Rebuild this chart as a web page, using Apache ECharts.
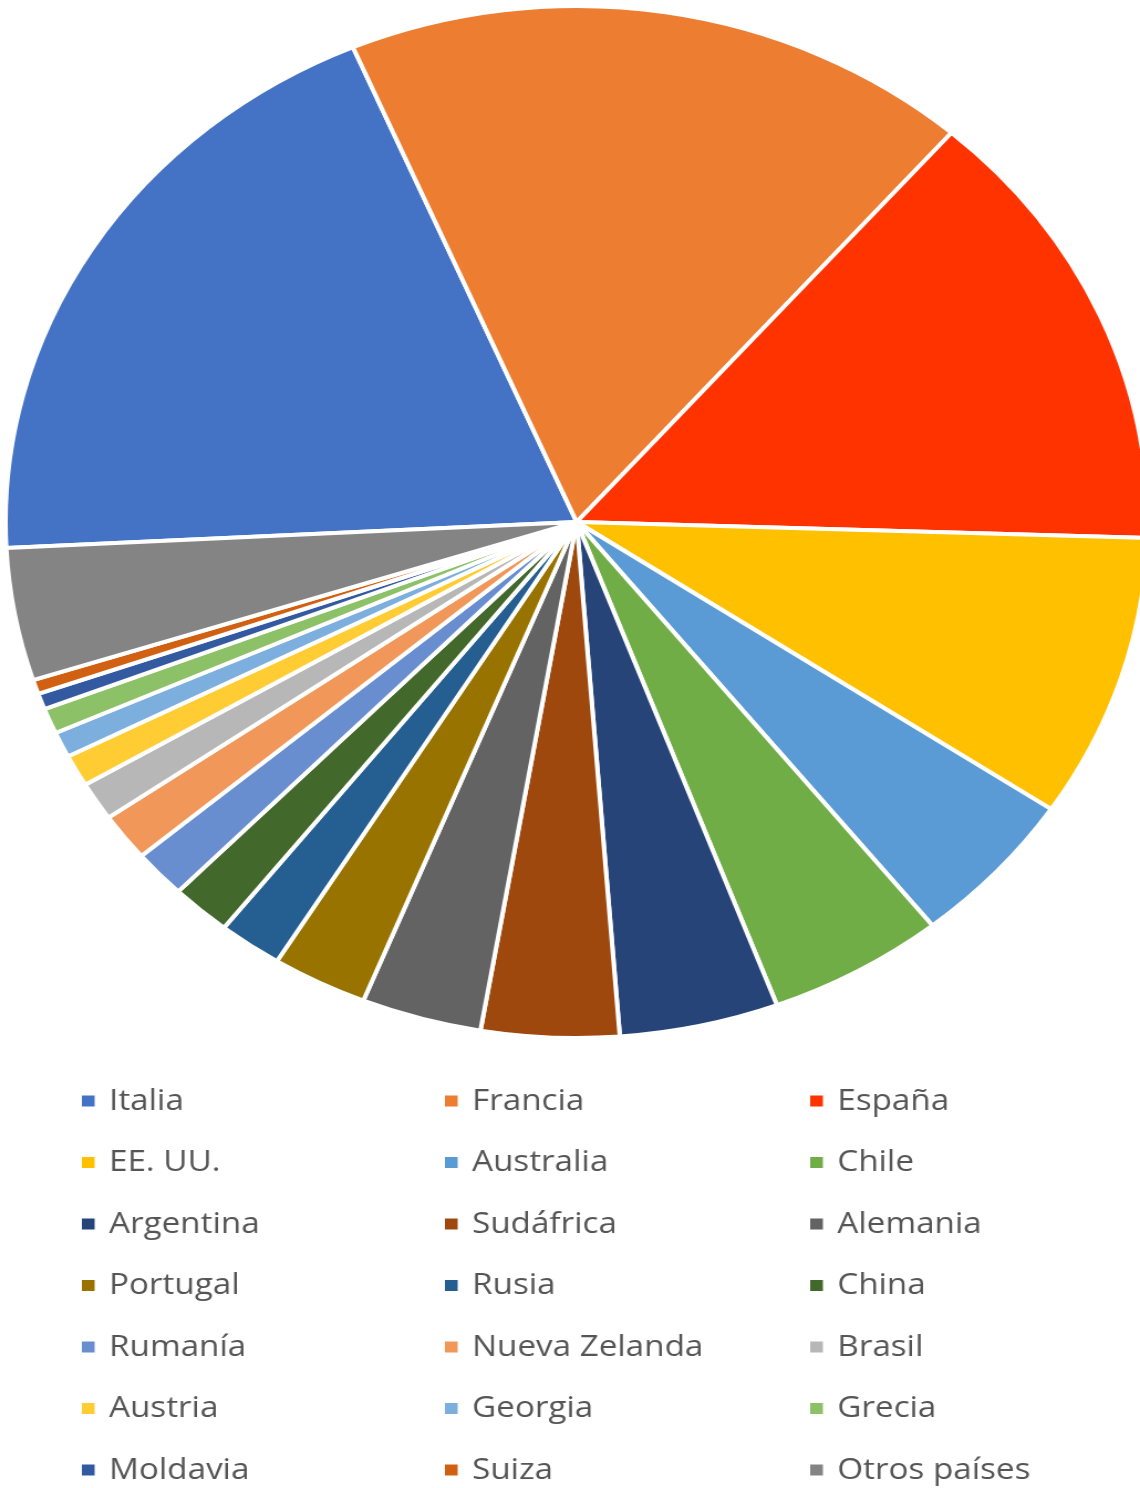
<!DOCTYPE html>
<html lang="es">
<head>
<meta charset="utf-8">
<title>Producción de vino por país</title>
<script src="https://cdn.jsdelivr.net/npm/echarts@6/dist/echarts.min.js"></script>
<style>
  html, body { margin: 0; padding: 0; background: #ffffff; overflow: hidden; }
  #wrap { width: 1140px; height: 1488px; overflow: hidden; position: relative; }
  /* the chart is drawn on a narrower canvas and widened horizontally,
     which gives the pie its oval shape */
  #chart { width: 1030px; height: 1488px; transform: scaleX(1.1068); transform-origin: 0 0; }
</style>
</head>
<body>
<div id="wrap"><div id="chart"></div></div>
<script>
// Countries in series order (clockwise from the left edge)
const countries = [
  'Italia', 'Francia', 'España', 'EE. UU.', 'Australia', 'Chile', 'Argentina',
  'Sudáfrica', 'Alemania', 'Portugal', 'Rusia', 'China', 'Rumanía',
  'Nueva Zelanda', 'Brasil', 'Austria', 'Georgia', 'Grecia', 'Moldavia',
  'Suiza', 'Otros países'
];

// Share of each country (%)
const shares = [
  19.4, 17.8, 14.1, 8.9, 4.9, 5.0, 4.5,
  3.9, 3.4, 2.7, 1.8, 1.7, 1.5,
  1.5, 1.2, 1.0, 0.8, 0.8, 0.5,
  0.45, 4.15
];

// Slice colours, same order as the countries
const colors = [
  '#4472C4', '#ED7D31', '#FF3300', '#FFC000', '#5B9BD5', '#70AD47', '#264478',
  '#9E480E', '#636363', '#997300', '#255E91', '#43682B', '#698ED0',
  '#F1975A', '#B7B7B7', '#FFCD33', '#7CAFDD', '#8CC168', '#335AA1',
  '#D26012', '#848484'
];

// Legend columns (three columns, read row by row)
const legendColumns = [
  ['Italia', 'EE. UU.', 'Argentina', 'Portugal', 'Rumanía', 'Austria', 'Moldavia'],
  ['Francia', 'Australia', 'Sudáfrica', 'Rusia', 'Nueva Zelanda', 'Georgia', 'Suiza'],
  ['España', 'Chile', 'Alemania', 'China', 'Brasil', 'Grecia', 'Otros países']
];
const legendLefts = [72, 400, 730];

const chart = echarts.init(document.getElementById('chart'), null, { renderer: 'canvas' });

const legendBase = {
  orient: 'vertical',
  top: 1086,
  padding: 0,
  itemGap: 31.5,
  itemWidth: 13.5,
  itemHeight: 13,
  icon: 'rect',
  selectedMode: false,
  textStyle: {
    fontFamily: '"Open Sans", sans-serif',
    fontSize: 30,
    lineHeight: 30,
    color: '#555555',
    padding: [0, 0, 0, 7]
  }
};

chart.setOption({
  animation: false,
  color: colors,
  legend: legendColumns.map((col, i) => Object.assign({}, legendBase, {
    left: legendLefts[i],
    data: col
  })),
  series: [{
    type: 'pie',
    center: [521, 522],
    radius: 516,
    startAngle: 182.9,
    clockwise: true,
    silent: true,
    label: { show: false },
    labelLine: { show: false },
    itemStyle: { borderColor: '#ffffff', borderWidth: 4 },
    emphasis: { disabled: true },
    data: countries.map((name, i) => ({ name, value: shares[i] }))
  }]
});
</script>
</body>
</html>
